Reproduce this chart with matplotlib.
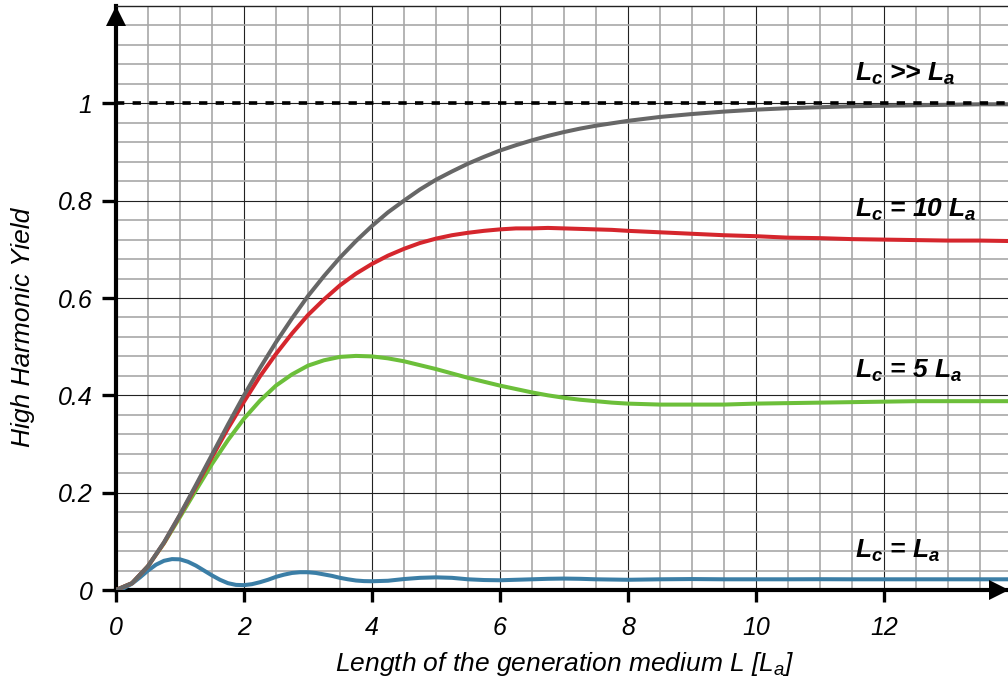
import matplotlib
matplotlib.use("Agg")
import matplotlib.pyplot as plt
from matplotlib.ticker import MultipleLocator, FixedLocator
from matplotlib.transforms import ScaledTranslation

# ---------------- Data ----------------
L = [0, 0.25, 0.5, 0.75, 1, 1.25, 1.5, 1.75, 2, 2.25, 2.5, 2.75, 3, 3.25, 3.5,
     3.75, 4, 4.25, 4.5, 4.75, 5, 5.25, 5.5, 5.75, 6, 6.25, 6.5, 6.75, 7, 7.25,
     7.5, 7.75, 8, 8.5, 9, 9.5, 10, 10.5, 11, 11.5, 12, 12.5, 13, 13.5, 14]

yield_inf = [0, 0.014, 0.049, 0.098, 0.155, 0.216, 0.278, 0.340, 0.400, 0.456,
             0.509, 0.558, 0.604, 0.645, 0.683, 0.717, 0.748, 0.776, 0.800, 0.823,
             0.843, 0.860, 0.876, 0.890, 0.903, 0.914, 0.924, 0.933, 0.941, 0.948,
             0.954, 0.959, 0.964, 0.972, 0.978, 0.983, 0.987, 0.990, 0.992, 0.994,
             0.995, 0.996, 0.997, 0.998, 0.998]

yield_10 = [0, 0.014, 0.049, 0.097, 0.154, 0.213, 0.273, 0.332, 0.387, 0.439,
            0.485, 0.527, 0.565, 0.597, 0.626, 0.650, 0.670, 0.687, 0.701, 0.713,
            0.722, 0.729, 0.734, 0.738, 0.741, 0.743, 0.743, 0.744, 0.743, 0.742,
            0.741, 0.740, 0.738, 0.735, 0.732, 0.729, 0.727, 0.724, 0.723, 0.721,
            0.720, 0.719, 0.718, 0.718, 0.717]

yield_5 = [0, 0.014, 0.049, 0.096, 0.150, 0.205, 0.259, 0.308, 0.352, 0.389,
           0.420, 0.443, 0.461, 0.472, 0.479, 0.481, 0.480, 0.476, 0.470, 0.462,
           0.454, 0.445, 0.436, 0.428, 0.420, 0.413, 0.406, 0.400, 0.395, 0.391,
           0.388, 0.385, 0.383, 0.381, 0.381, 0.381, 0.383, 0.384, 0.385, 0.386,
           0.387, 0.388, 0.388, 0.388, 0.388]

# the Lc = La curve wiggles, so it is read at a finer step
L_fine = [0, 0.125, 0.25, 0.375, 0.5, 0.625, 0.75, 0.875, 1, 1.125, 1.25, 1.375,
          1.5, 1.625, 1.75, 1.875, 2, 2.125, 2.25, 2.375, 2.5, 2.625, 2.75, 2.875,
          3, 3.125, 3.25, 3.375, 3.5, 3.625, 3.75, 3.875, 4, 4.25, 4.5, 4.75, 5,
          5.25, 5.5, 5.75, 6, 6.25, 6.5, 6.75, 7, 7.25, 7.5, 7.75, 8, 8.5, 9, 9.5,
          10, 10.5, 11, 11.5, 12, 12.5, 13, 13.5, 14]

yield_1 = [0, 0.004, 0.013, 0.026, 0.040, 0.052, 0.060, 0.0635, 0.063, 0.058,
           0.050, 0.040, 0.030, 0.021, 0.014, 0.0105, 0.010, 0.012, 0.016, 0.021,
           0.027, 0.0315, 0.035, 0.0365, 0.0365, 0.035, 0.032, 0.029, 0.025, 0.022,
           0.0195, 0.0183, 0.018, 0.019, 0.0225, 0.025, 0.026, 0.025, 0.022, 0.0205,
           0.020, 0.021, 0.022, 0.023, 0.0235, 0.023, 0.022, 0.0215, 0.021, 0.022,
           0.0225, 0.022, 0.022, 0.022, 0.0222, 0.022, 0.022, 0.022, 0.022, 0.022,
           0.022]

x_ticks = [0, 2, 4, 6, 8, 10, 12]
y_ticks = [0, 0.2, 0.4, 0.6, 0.8, 1.0]
y_ticklabels = ["0", "0.2", "0.4", "0.6", "0.8", "1"]

# ---------------- Style ----------------
plt.rcParams["font.family"] = ["Liberation Sans", "DejaVu Sans"]
plt.rcParams["mathtext.fontset"] = "custom"
plt.rcParams["mathtext.it"] = "Liberation Sans:italic:bold"
plt.rcParams["mathtext.rm"] = "Liberation Sans:italic"

fig = plt.figure(figsize=(10.08, 6.82), dpi=100)
ax = fig.add_axes([116 / 1008, 92 / 682, 892 / 1008, 584 / 682])
ax.set_xlim(0, 13.94)
ax.set_ylim(0, 1.2)

# grid
ax.xaxis.set_major_locator(FixedLocator(x_ticks))
ax.yaxis.set_major_locator(FixedLocator(y_ticks))
ax.xaxis.set_minor_locator(MultipleLocator(0.5))
ax.yaxis.set_minor_locator(MultipleLocator(0.04))
ax.grid(which="minor", color="#a8a8a8", lw=1.2, zorder=0)
ax.grid(which="major", color="#222222", lw=0.8, zorder=0)
ax.set_axisbelow(True)

# curves
ax.plot(L_fine, yield_1, color="#3b7ea6", lw=2.9, zorder=3)
ax.plot(L, yield_5, color="#6cbf3a", lw=2.9, zorder=3)
ax.plot(L, yield_10, color="#d5262d", lw=2.9, zorder=3)
ax.plot(L, yield_inf, color="#676767", lw=2.9, zorder=4)
ax.axhline(1.0, color="black", lw=2.6, ls=(0, (2.3, 2.3)), zorder=5)

# curve labels
lab_kw = dict(fontsize=19, fontweight="bold", style="italic", ha="left", va="baseline")
ax.text(11.55, 1.047, r"$L_c$ >> $L_a$", **lab_kw)
ax.text(11.55, 0.766, r"$L_c$ = 10 $L_a$", **lab_kw)
ax.text(11.55, 0.437, r"$L_c$ = 5 $L_a$", **lab_kw)
ax.text(11.55, 0.067, r"$L_c$ = $L_a$", **lab_kw)

# axes / spines
for s in ["left", "bottom"]:
    ax.spines[s].set_linewidth(3)
    ax.spines[s].set_color("black")
ax.spines["right"].set_visible(False)
ax.spines["top"].set_linewidth(1)
ax.spines["top"].set_color("#222222")

ax.set_yticks(y_ticks)
ax.set_yticklabels(y_ticklabels)
ax.tick_params(axis="y", which="major", length=10, width=2.4, direction="out",
               labelsize=18, pad=7)
ax.tick_params(axis="x", which="major", length=8.5, width=2.4, direction="out",
               labelsize=18, pad=10)
ax.tick_params(which="minor", length=0)
for t in ax.get_xticklabels() + ax.get_yticklabels():
    t.set_style("italic")

# arrow heads
off_y = ScaledTranslation(0, -0.095, fig.dpi_scale_trans)
off_x = ScaledTranslation(-0.095, 0, fig.dpi_scale_trans)
ax.plot(0, 1, marker="^", ms=14, color="black", mew=0,
        transform=ax.transAxes + off_y, clip_on=False, zorder=6)
ax.plot(1, 0, marker=">", ms=14, color="black", mew=0,
        transform=ax.transAxes + off_x, clip_on=False, zorder=6)

ax.set_xlabel(r"Length of the generation medium L [$\mathrm{L_a}$]",
              fontsize=19, style="italic")
ax.set_ylabel("High Harmonic Yield", fontsize=19, style="italic")
ax.xaxis.set_label_coords(0.503, -0.103)
ax.yaxis.set_label_coords(-0.091, 0.449)

fig.savefig("out.png", dpi=100)
